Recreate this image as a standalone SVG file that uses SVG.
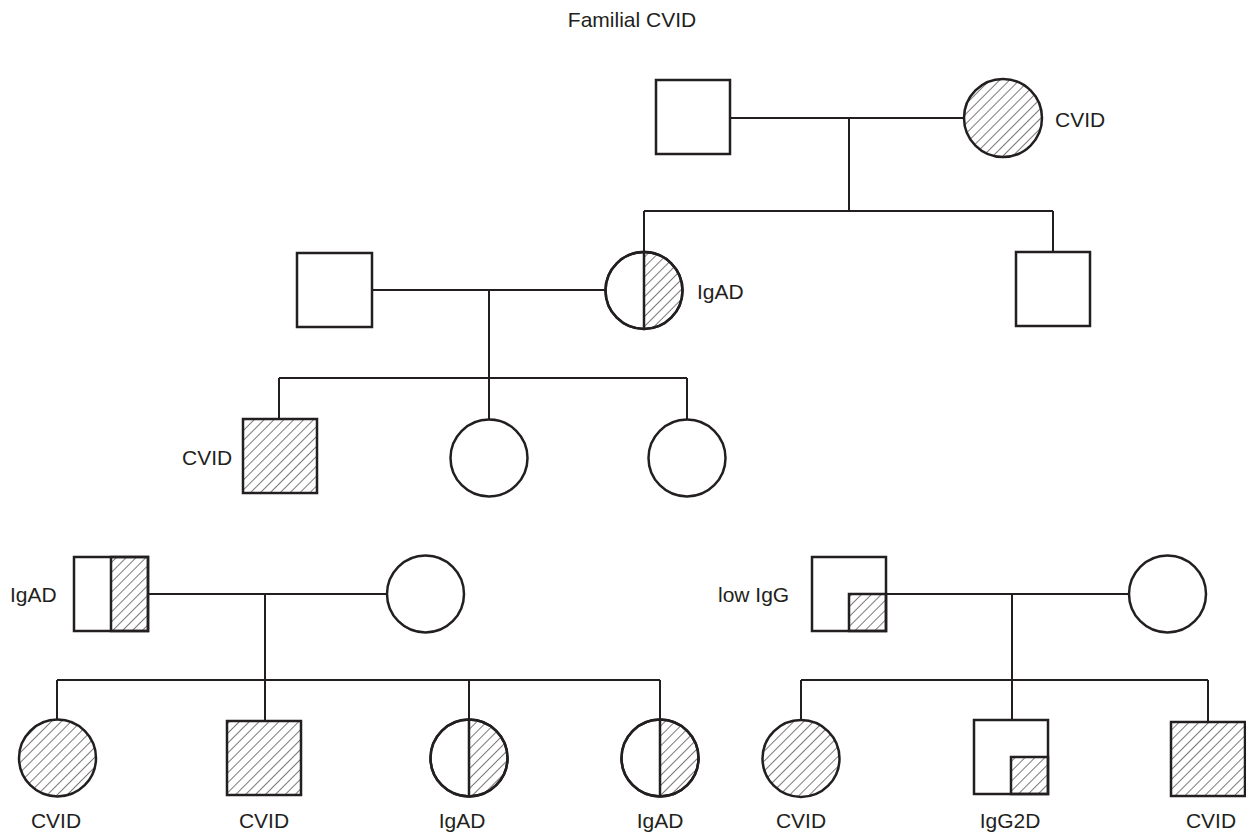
<svg xmlns="http://www.w3.org/2000/svg" width="1246" height="834" viewBox="0 0 1246 834">
<defs>
<pattern id="hatch" patternUnits="userSpaceOnUse" width="7" height="7" patternTransform="rotate(45)">
<line x1="0" y1="-1" x2="0" y2="8" stroke="#231f20" stroke-width="1.2"/>
</pattern>
</defs>
<style>
.s{fill:#fff;stroke:#231f20;stroke-width:2.5}
.h{fill:url(#hatch);stroke:#231f20;stroke-width:2.5}
.hf{fill:url(#hatch);stroke:none}
.o{fill:none;stroke:#231f20;stroke-width:2.5}
.c{fill:none;stroke:#231f20;stroke-width:2}
text{font-family:"Liberation Sans",Arial,sans-serif;font-size:21px;fill:#231f20}
.m{text-anchor:middle}
</style>
<rect width="1246" height="834" fill="#fff"/>
<text class="m" x="632" y="27">Familial CVID</text>
<g id="connectors">
<path class="c" d="M730 118H964M849 118V211M644 211H1053M644 211V252M1053 211V252"/>
<path class="c" d="M372 290H606M489 290V378M279 378H687M279 378V419M489 378V419M687 378V419"/>
<path class="c" d="M148 594H387M265 594V680M57 680H660M57 680V719M265 680V721M469 680V719M660 680V719"/>
<path class="c" d="M886 594H1129M1012 594V680M801 680H1208M801 680V720M1012 680V720M1208 680V721"/>
</g>
<g id="n1"><rect class="s" x="656" y="80" width="74" height="74"/></g>
<g id="n2"><circle class="h" cx="1003" cy="118" r="39"/><text x="1055" y="127">CVID</text></g>
<g id="n3"><rect class="s" x="297" y="253" width="75" height="74"/></g>
<g id="n4"><circle class="s" cx="644" cy="290.5" r="38.5"/><path class="hf" d="M644 252A38.5 38.5 0 0 1 644 329Z"/><circle class="o" cx="644" cy="290.5" r="38.5"/><line class="o" x1="644" y1="252" x2="644" y2="329" stroke-width="2"/><text x="697" y="299">IgAD</text></g>
<g id="n5"><rect class="s" x="1016" y="252" width="74" height="74"/></g>
<g id="n6"><rect class="h" x="243" y="419" width="74" height="74"/><text x="182" y="465">CVID</text></g>
<g id="n7"><circle class="s" cx="489" cy="458" r="38.5"/></g>
<g id="n8"><circle class="s" cx="687" cy="458" r="38.5"/></g>
<g id="n9"><rect class="s" x="74" y="557" width="74" height="74"/><rect class="h" x="111" y="557" width="37" height="74"/><text x="10" y="602">IgAD</text></g>
<g id="n10"><circle class="s" cx="425.5" cy="594" r="38.5"/></g>
<g id="n11"><rect class="s" x="812" y="557" width="74" height="74"/><rect class="h" x="849" y="594" width="37" height="37"/><text x="718" y="602">low IgG</text></g>
<g id="n12"><circle class="s" cx="1167.5" cy="594" r="38.5"/></g>
<g id="n13"><circle class="h" cx="57.5" cy="758" r="38.5"/><text class="m" x="56" y="828">CVID</text></g>
<g id="n14"><rect class="h" x="227" y="721" width="74" height="74"/><text class="m" x="264" y="828">CVID</text></g>
<g id="n15"><circle class="s" cx="469" cy="758" r="38.5"/><path class="hf" d="M469 719.5A38.5 38.5 0 0 1 469 796.5Z"/><circle class="o" cx="469" cy="758" r="38.5"/><line class="o" x1="469" y1="719.5" x2="469" y2="796.5"/><text class="m" x="462" y="828">IgAD</text></g>
<g id="n16"><circle class="s" cx="660" cy="758" r="38.5"/><path class="hf" d="M660 719.5A38.5 38.5 0 0 1 660 796.5Z"/><circle class="o" cx="660" cy="758" r="38.5"/><line class="o" x1="660" y1="719.5" x2="660" y2="796.5"/><text class="m" x="660" y="828">IgAD</text></g>
<g id="n17"><circle class="h" cx="801" cy="758.5" r="38.5"/><text class="m" x="801" y="828">CVID</text></g>
<g id="n18"><rect class="s" x="974" y="720" width="74" height="74"/><rect class="h" x="1011" y="757" width="37" height="37"/><text class="m" x="1010" y="828">IgG2D</text></g>
<g id="n19"><rect class="h" x="1171" y="722" width="74" height="74"/><text class="m" x="1211" y="828">CVID</text></g>
</svg>
